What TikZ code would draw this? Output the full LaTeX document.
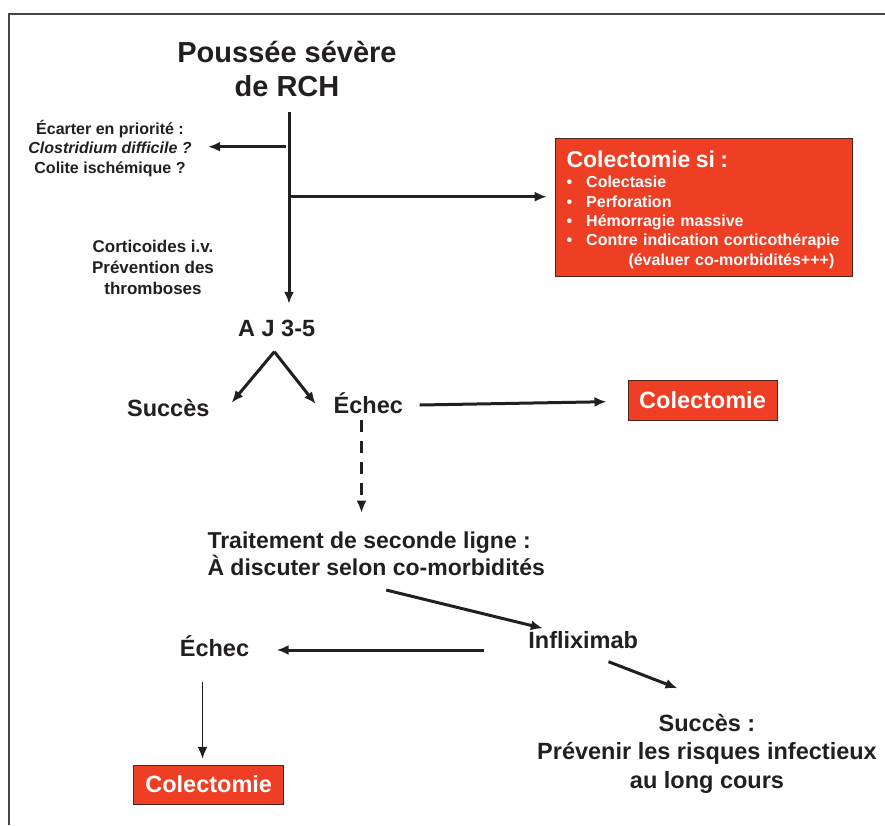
\documentclass[tikz,border=0pt]{standalone}
\usepackage{fontspec}
\setmainfont{Liberation Sans}
\usepackage{xcolor}
\usepackage{tikz}
\usetikzlibrary{arrows.meta}
\definecolor{rouge}{RGB}{238,62,36}
\definecolor{encre}{RGB}{35,31,32}
\definecolor{cadre}{RGB}{70,70,70}

\begin{document}
\begin{tikzpicture}[x=1pt,y=-1pt,->,>={Latex[length=12pt,width=10pt]},line width=3pt,color=encre]
  \tikzstyle{txt}=[inner sep=0pt,anchor=base,align=center,font=\bfseries\fontsize{23.5}{28.2}\selectfont]
  \tikzstyle{petit}=[txt,font=\bfseries\fontsize{16}{19.5}\selectfont]
  \tikzstyle{colbox}=[draw=encre!80!rouge,line width=1pt,fill=rouge,text=white,inner sep=0pt]
  \useasboundingbox (0,0) rectangle (885,825);
  \draw[-,line width=2pt,cadre] (9,825) -- (9,13.5) -- (885,13.5);

  \node[txt,font=\bfseries\fontsize{29}{34}\selectfont] (pousse) at (287,96.7) {Poussée sévère\\de RCH};
  \node[petit] (ecarter) at (110,173.3) {Écarter en priorité :\\{\itshape Clostridium difficile ?}\\Colite ischémique ?};
  \node[petit,font=\bfseries\fontsize{17}{20.8}\selectfont] (cortico) at (153,294) {Corticoides i.v.\\Prévention des\\thromboses};
  \node[colbox,anchor=north west,minimum width=297pt,minimum height=138pt,text width=275pt,inner xsep=11pt,align=left,
        font=\bfseries\fontsize{16}{19.4}\selectfont] (colsi) at (555,138)
    {{\fontsize{23}{23}\selectfont\rule{0pt}{20.8pt}Colectomie si :}\\[1.3pt]
     \makebox[19.7pt][l]{•}Colectasie\\
     \makebox[19.7pt][l]{•}Perforation\\
     \makebox[19.7pt][l]{•}Hémorragie massive\\
     \makebox[19.7pt][l]{•}Contre indication corticothérapie\\
     \hspace*{62pt}(évaluer co-morbidités+++)};

  \node[txt] (j35) at (276.7,336.7) {A J 3-5};
  \node[txt] (succes) at (168.3,416) {Succès};
  \node[txt] (echec) at (368.3,413.3) {Échec};
  \node[colbox,font=\bfseries\fontsize{23.5}{28}\selectfont,minimum width=149pt,minimum height=40pt] (colect) at (702.5,400) {Colectomie};
  \node[txt,anchor=base west,align=left,font=\bfseries\fontsize{23}{26.7}\selectfont] (ligne2) at (206,575)
    {Traitement de seconde ligne :\\À discuter selon co-morbidités};
  \node[txt] (inflix) at (583.2,648.3) {Infliximab};
  \node[txt] (echec2) at (214.5,656.7) {Échec};
  \node[colbox,font=\bfseries\fontsize{23.5}{28}\selectfont,minimum width=149.5pt,minimum height=39pt] (colect2) at (208.7,784.5) {Colectomie};
  \node[txt] (succes2) at (707,788) {Succès :\\Prévenir les risques infectieux\\au long cours};

  % tronc principal
  \coordinate (b1) at (289,146.7);
  \coordinate (b2) at (289,196.7);
  \draw[shorten >=15pt] ([xshift=2pt,yshift=-13.3pt]pousse.south) -- ([xshift=2pt]pousse.south |- j35.north);
  \draw[shorten <=3pt,shorten >=15pt] (b1) -- (b1 -| ecarter.east);
  \draw[shorten <=-1.5pt,shorten >=8.3pt] (b2) -- (b2 -| colsi.west);

  \path
    ([xshift=-2.4pt,yshift=-15pt]j35.base) edge ([xshift=20.7pt,yshift=13.3pt]succes.base east)
    ([xshift=-2.4pt,yshift=-15pt]j35.base) edge ([xshift=-16.5pt,yshift=9.3pt]echec.base west)
    ([xshift=15.3pt,yshift=8.3pt]echec.base east) edge ([xshift=-21pt,yshift=-1.7pt]colect.west)
    ([xshift=-6.8pt,yshift=-6.7pt]echec.base) edge [dash pattern=on 12pt off 9pt] ([xshift=-6.8pt,yshift=62.3pt]echec.base |- ligne2.base)
    ([xshift=10pt,yshift=-13.3pt]ligne2.south) edge ([xshift=16pt,yshift=20pt]inflix.base west)
    ([xshift=-43pt,yshift=-1.7pt]inflix.base west) edge ([xshift=26pt,yshift=6.7pt]echec2.base east)
    ([xshift=25.3pt,yshift=-13.4pt]inflix.base) edge ([xshift=-29.5pt,yshift=99.7pt]succes2.base)
    ([xshift=-12pt,yshift=-25pt]echec2.base) edge [line width=1.8pt] ([xshift=-6.2pt,yshift=5.7pt]colect2.north);
\end{tikzpicture}
\end{document}
